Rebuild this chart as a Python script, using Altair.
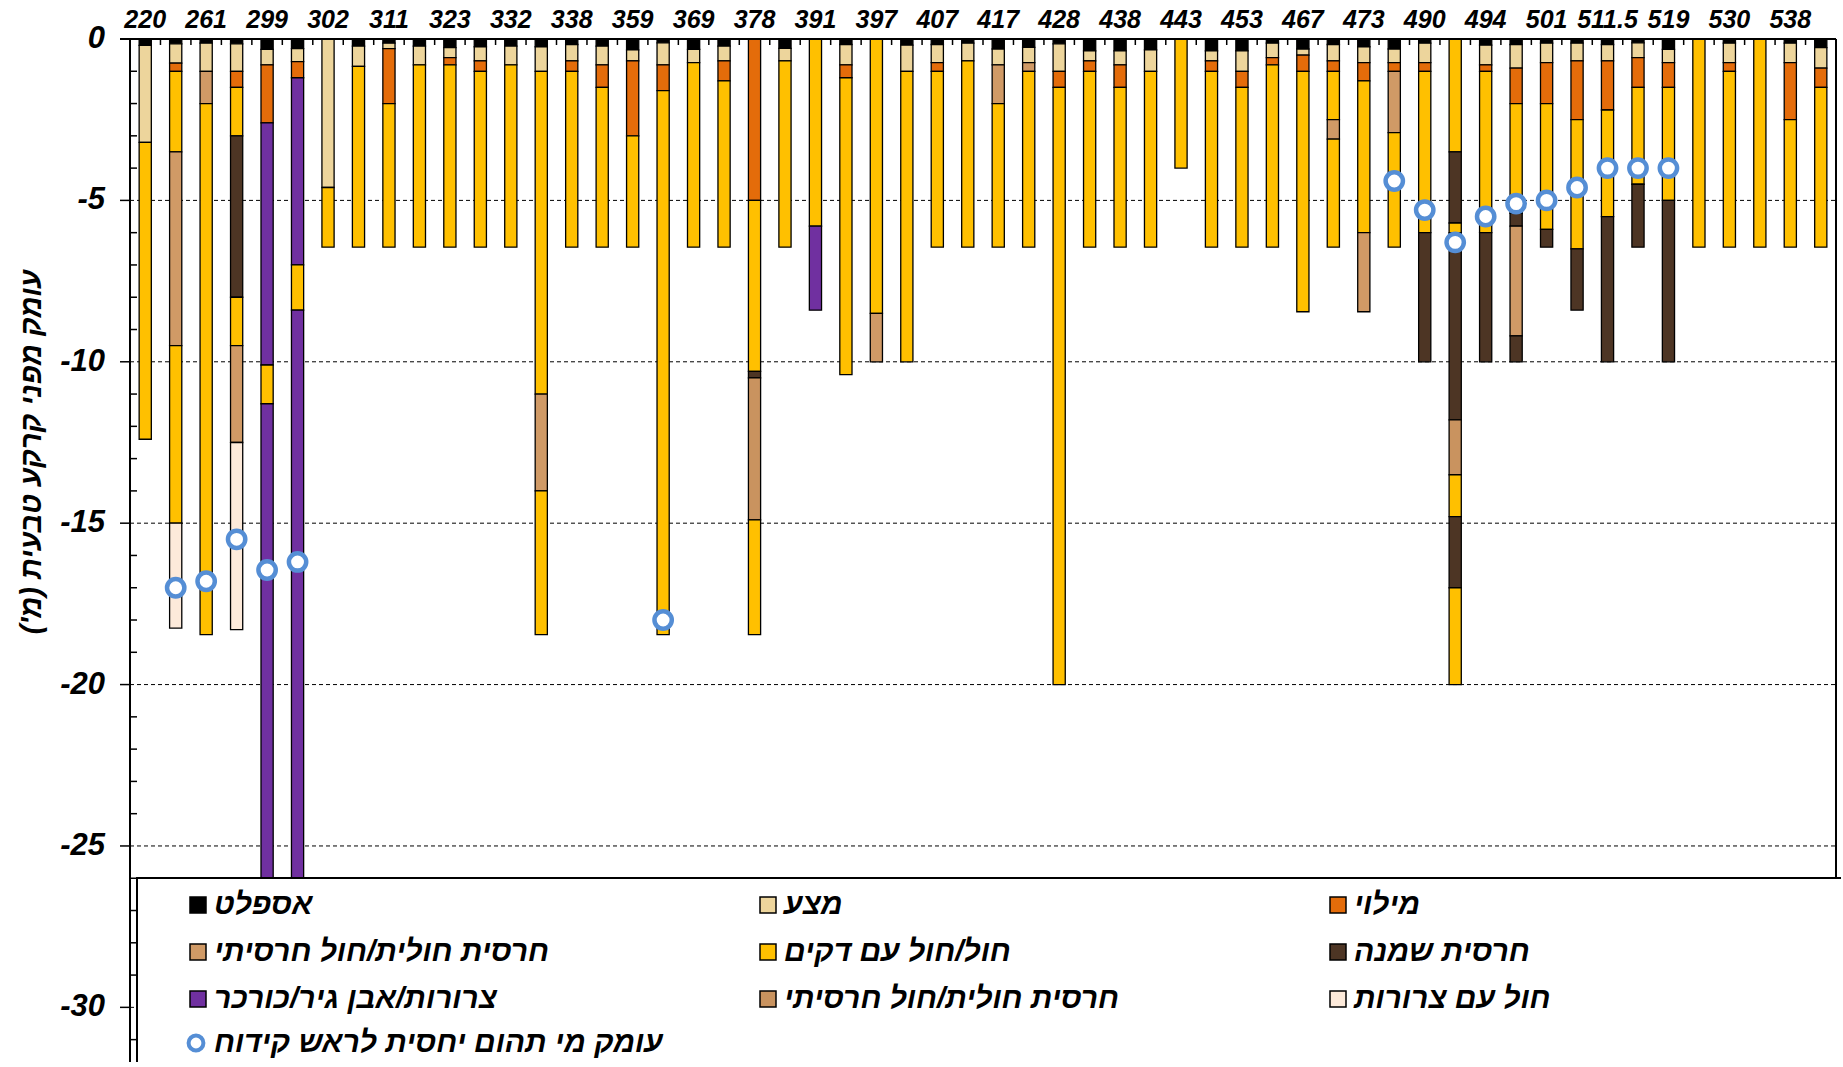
import altair as alt
import pandas as pd

# Borehole names printed along the top (every second log carries a name)
BOREHOLE_LABELS = ["220", "261", "299", "302", "311", "323", "332", "338", "359", "369",
                   "378", "391", "397", "407", "417", "428", "438", "443", "453", "467",
                   "473", "490", "494", "501", "511.5", "519", "530", "538"]

# Soil classes: code, legend text, colour
SOIL_CODES = ["A", "M", "F", "C", "S", "K", "G", "C2", "P"]
SOIL_NAMES = ["אספלט", "מצע", "מילוי",
              "חרסית חולית/חול חרסיתי", "חול/חול עם דקים", "חרסית שמנה",
              "צרורות/אבן גיר/כורכר", "חרסית חולית/חול חרסיתי", "חול עם צרורות"]
SOIL_COLORS = ["#000000", "#EDD59C", "#E46C0A",
               "#D09A66", "#FFC000", "#4D3524",
               "#7030A0", "#C9935F", "#FDEADA"]

# Each log: (soil code, depth of the layer bottom in metres), top to bottom
LOGS = [
    [("A", 0.2), ("M", 3.2), ("S", 12.4)],
    [("A", 0.15), ("M", 0.75), ("F", 1.0), ("S", 3.5), ("C", 9.5), ("S", 15.0), ("P", 18.25)],
    [("A", 0.13), ("M", 1.0), ("C", 2.0), ("S", 18.45)],
    [("A", 0.15), ("M", 1.0), ("F", 1.5), ("S", 3.0), ("K", 8.0), ("S", 9.5), ("C", 12.5), ("P", 18.3)],
    [("A", 0.32), ("M", 0.8), ("F", 2.6), ("G", 10.1), ("S", 11.3), ("G", 28.0)],
    [("A", 0.3), ("M", 0.7), ("F", 1.2), ("G", 7.0), ("S", 8.4), ("G", 28.0)],
    [("M", 4.6), ("S", 6.45)],
    [("A", 0.22), ("M", 0.85), ("S", 6.45)],
    [("A", 0.13), ("M", 0.3), ("F", 2.0), ("S", 6.45)],
    [("A", 0.22), ("M", 0.8), ("S", 6.45)],
    [("A", 0.27), ("M", 0.58), ("F", 0.8), ("S", 6.45)],
    [("A", 0.24), ("M", 0.68), ("F", 1.0), ("S", 6.45)],
    [("A", 0.22), ("M", 0.8), ("S", 6.45)],
    [("A", 0.24), ("M", 1.0), ("S", 11.0), ("C", 14.0), ("S", 18.45)],
    [("A", 0.17), ("M", 0.68), ("F", 1.0), ("S", 6.45)],
    [("A", 0.22), ("M", 0.8), ("F", 1.5), ("S", 6.45)],
    [("A", 0.34), ("M", 0.68), ("F", 3.0), ("S", 6.45)],
    [("A", 0.12), ("M", 0.8), ("F", 1.6), ("S", 18.45)],
    [("A", 0.32), ("M", 0.73), ("S", 6.45)],
    [("A", 0.22), ("M", 0.68), ("F", 1.3), ("S", 6.45)],
    [("F", 5.0), ("S", 10.3), ("K", 10.5), ("C2", 14.9), ("S", 18.45)],
    [("A", 0.29), ("M", 0.68), ("S", 6.45)],
    [("S", 5.8), ("G", 8.4)],
    [("A", 0.17), ("M", 0.8), ("F", 1.2), ("S", 10.4)],
    [("S", 8.5), ("C", 10.0)],
    [("A", 0.19), ("M", 1.0), ("S", 10.0)],
    [("A", 0.17), ("M", 0.73), ("F", 1.0), ("S", 6.45)],
    [("A", 0.13), ("M", 0.68), ("S", 6.45)],
    [("A", 0.31), ("M", 0.8), ("C", 2.0), ("S", 6.45)],
    [("A", 0.26), ("M", 0.73), ("C", 1.0), ("S", 6.45)],
    [("A", 0.15), ("M", 1.0), ("F", 1.5), ("S", 20.0)],
    [("A", 0.37), ("M", 0.68), ("F", 1.0), ("S", 6.45)],
    [("A", 0.37), ("M", 0.8), ("F", 1.5), ("S", 6.45)],
    [("A", 0.34), ("M", 1.0), ("S", 6.45)],
    [("S", 4.0)],
    [("A", 0.37), ("M", 0.68), ("F", 1.0), ("S", 6.45)],
    [("A", 0.37), ("M", 1.0), ("F", 1.5), ("S", 6.45)],
    [("A", 0.13), ("M", 0.58), ("F", 0.8), ("S", 6.45)],
    [("A", 0.31), ("M", 0.5), ("F", 1.0), ("S", 8.45)],
    [("A", 0.17), ("M", 0.68), ("F", 1.0), ("S", 2.5), ("C", 3.1), ("S", 6.45)],
    [("A", 0.24), ("M", 0.73), ("F", 1.3), ("S", 6.0), ("C", 8.45)],
    [("A", 0.31), ("M", 0.73), ("F", 1.0), ("C", 2.9), ("S", 6.45)],
    [("A", 0.13), ("M", 0.73), ("F", 1.0), ("S", 6.0), ("K", 10.0)],
    [("S", 3.5), ("K", 5.7), ("S", 6.0), ("K", 11.8), ("C2", 13.5), ("S", 14.8), ("K", 17.0), ("S", 20.0)],
    [("A", 0.19), ("M", 0.8), ("F", 1.0), ("S", 6.0), ("K", 10.0)],
    [("A", 0.17), ("M", 0.9), ("F", 2.0), ("S", 5.4), ("K", 5.8), ("C", 9.2), ("K", 10.0)],
    [("A", 0.13), ("M", 0.73), ("F", 2.0), ("S", 5.9), ("K", 6.45)],
    [("A", 0.13), ("M", 0.68), ("F", 2.5), ("S", 6.5), ("K", 8.4)],
    [("A", 0.17), ("M", 0.68), ("F", 2.2), ("S", 5.5), ("K", 10.0)],
    [("A", 0.12), ("M", 0.58), ("F", 1.5), ("S", 4.5), ("K", 6.45)],
    [("A", 0.32), ("M", 0.73), ("F", 1.5), ("S", 5.0), ("K", 10.0)],
    [("S", 6.45)],
    [("A", 0.13), ("M", 0.73), ("F", 1.0), ("S", 6.45)],
    [("S", 6.45)],
    [("A", 0.13), ("M", 0.73), ("F", 2.5), ("S", 6.45)],
    [("A", 0.27), ("M", 0.9), ("F", 1.5), ("S", 6.45)],
]

# Groundwater depth below the borehole head (m); None where not measured
WATER_DEPTH = [None, 17.0, 16.8, 15.5, 16.45, 16.2, None, None, None, None,
               None, None, None, None, None, None, None, 18.0, None, None,
               None, None, None, None, None, None, None, None, None, None,
               None, None, None, None, None, None, None, None, None, None,
               None, 4.4, 5.3, 6.3, 5.5, 5.1, 5.0, 4.6, 4.0, 4.0,
               4.0, None, None, None, None, None]

WATER_LABEL = "עומק מי תהום יחסית לראש קידוח"
Y_TITLE = "עומק מפני קרקע טבעית (מ')"
Y_TICKS = [0, -5, -10, -15, -20, -25, -30]

FONT = "Liberation Sans"
N = len(LOGS)
W, H = 1706, 1020
Y_MIN = -31.6

# ---- tables for the marks ----
seg_rows = []
for i, log in enumerate(LOGS):
    prev = 0.0
    for code, depth in log:
        seg_rows.append({"x0": i + 0.3, "x1": i + 0.7, "top": -prev, "bottom": -depth, "soil": code})
        prev = depth
segments = pd.DataFrame(seg_rows)

water = pd.DataFrame([{"pos": i + 0.5, "level": -w, "kind": WATER_LABEL}
                      for i, w in enumerate(WATER_DEPTH) if w is not None])

names_top = pd.DataFrame({"pos": [2 * k + 0.5 for k in range(len(BOREHOLE_LABELS))],
                          "name": BOREHOLE_LABELS})
y_marks = pd.DataFrame({"v": Y_TICKS, "txt": [str(v) for v in Y_TICKS]})
grid_vals = pd.DataFrame({"v": [v for v in Y_TICKS if v != 0]})
top_ticks = pd.DataFrame({"pos": list(range(1, N))})
minor_ticks = pd.DataFrame({"d": [-v for v in range(1, 32) if v % 5 != 0]})
one = pd.DataFrame({"t": [Y_TITLE]})

x_scale = alt.Scale(domain=[0, N], nice=False, zero=False)
y_scale = alt.Scale(domain=[Y_MIN, 0], nice=False, zero=False)

code_list = "[" + ",".join("'" + s + "'" for s in SOIL_CODES) + "]"
name_list = "[" + ",".join("'" + s + "'" for s in SOIL_NAMES) + "]"

soil_legend = alt.Legend(orient="none", legendX=53, legendY=851, columns=3,
                         direction="horizontal",
                         gridAlign="all", columnPadding=203, rowPadding=17,
                         symbolType="square", symbolSize=256, symbolStrokeColor="black",
                         symbolStrokeWidth=1.5, labelOffset=1, labelLimit=1000,
                         labelExpr=name_list + "[indexof(" + code_list + ", datum.value)]",
                         labelFont=FONT, labelFontSize=30, labelFontWeight="bold",
                         labelFontStyle="italic", labelColor="black")

water_legend = alt.Legend(orient="none", legendX=51, legendY=989,
                          symbolType="circle", symbolSize=220, symbolFillColor="white",
                          symbolStrokeWidth=4, labelOffset=3, labelLimit=1000,
                          labelFont=FONT, labelFontSize=30, labelFontWeight="bold",
                          labelFontStyle="italic", labelColor="black")


def xq(field):
    return alt.X(field, scale=x_scale, axis=None)


def yq(field):
    return alt.Y(field, scale=y_scale, axis=None)


# dashed horizontal grid
grid = alt.Chart(grid_vals).mark_rule(color="black", strokeWidth=1, strokeDash=[4, 3]).encode(
    y=yq("v:Q"), x=alt.value(0), x2=alt.value(W),
)

# borehole logs
bars = alt.Chart(segments).mark_bar(stroke="black", strokeWidth=1.3).encode(
    x=xq("x0:Q"),
    x2="x1:Q",
    y=yq("top:Q"),
    y2="bottom:Q",
    fill=alt.Fill("soil:N", scale=alt.Scale(domain=SOIL_CODES, range=SOIL_COLORS),
                  legend=soil_legend, title=None),
)

# groundwater level markers
points = alt.Chart(water).mark_point(shape="circle", filled=True, fill="white",
                                     strokeWidth=4.5, size=300, opacity=1).encode(
    x=xq("pos:Q"),
    y=yq("level:Q"),
    stroke=alt.Stroke("kind:N", scale=alt.Scale(domain=[WATER_LABEL], range=["#558ED5"]),
                      legend=water_legend, title=None),
)

# top axis: line, inner ticks between logs, borehole names
top_line = alt.Chart(one).mark_rule(color="black", strokeWidth=2).encode(
    y=alt.value(0), x=alt.value(-10), x2=alt.value(W),
)
ticks_top = alt.Chart(top_ticks).mark_rule(color="black", strokeWidth=1.5).encode(
    x=xq("pos:Q"), y=alt.value(0), y2=alt.value(6),
)
top_names = alt.Chart(names_top).mark_text(
    font=FONT, fontSize=25, fontWeight="bold", fontStyle="italic", color="black",
    align="center", baseline="alphabetic", dy=-11,
).encode(x=xq("pos:Q"), y=alt.value(0), text="name:N")

# left axis: line, outer major ticks, inner minor ticks, labels, title
left_line = alt.Chart(one).mark_rule(color="black", strokeWidth=2).encode(
    x=alt.value(0), y=alt.value(0), y2=alt.value(H + 20),
)
ticks_major = alt.Chart(y_marks).mark_rule(color="black", strokeWidth=1.5).encode(
    y=yq("v:Q"), x=alt.value(-10), x2=alt.value(0),
)
ticks_minor = alt.Chart(minor_ticks).mark_rule(color="black", strokeWidth=1.5).encode(
    y=yq("d:Q"), x=alt.value(0), x2=alt.value(7),
)
y_labels = alt.Chart(y_marks).mark_text(
    font=FONT, fontSize=31, fontWeight="bold", fontStyle="italic", color="black",
    align="right", baseline="middle",
).encode(y=yq("v:Q"), x=alt.value(-25), text="txt:N")
y_title = alt.Chart(one).mark_text(
    font=FONT, fontSize=29, fontWeight="bold", fontStyle="italic", color="black",
    align="center", baseline="middle", angle=270,
).encode(x=alt.value(-98), y=alt.value(413), text="t:N")

right_edge = alt.Chart(one).mark_rule(color="black", strokeWidth=2).encode(
    x=alt.value(W), y=alt.value(0), y2=alt.value(839),
)

legend_box = alt.Chart(one).mark_rect(fill="white", stroke="black", strokeWidth=2).encode(
    x=alt.value(7), x2=alt.value(1760), y=alt.value(839), y2=alt.value(1100),
)

chart = alt.layer(
    grid, bars, points, top_line, ticks_top, top_names,
    left_line, ticks_major, ticks_minor, y_labels, y_title,
    right_edge, legend_box,
).properties(
    width=W, height=H,
    autosize=alt.AutoSizeParams(type="none"),
    padding={"left": 130, "top": 39, "right": 5, "bottom": 3},
).configure_view(strokeOpacity=0)

chart.save("out.html", embed_options={"renderer": "svg", "actions": False})
